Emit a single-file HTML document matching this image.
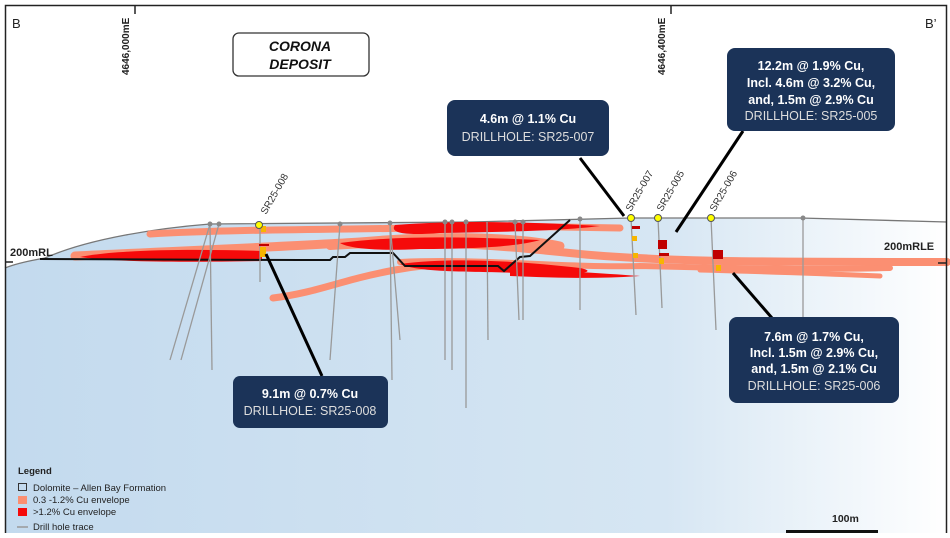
<!DOCTYPE html>
<html><head><style>
body{margin:0;width:950px;height:533px;overflow:hidden;background:#fff;font-family:"Liberation Sans",sans-serif}
</style></head><body>
<svg width="950" height="533" viewBox="0 0 950 533" xmlns="http://www.w3.org/2000/svg" font-family="Liberation Sans, sans-serif">
<defs>
<linearGradient id="bg" x1="0" y1="0" x2="1" y2="0">
<stop offset="0" stop-color="#c3daee"/><stop offset="0.7" stop-color="#d6e6f3"/><stop offset="1" stop-color="#ffffff"/>
</linearGradient>
</defs>
<rect width="950" height="533" fill="#fff"/>
<path d="M5,268 C20,262 35,260 45,258 C90,238 160,228 210,224 L470,222 L630,218 L800,218 L947,222 L947,533 L5,533 Z" fill="url(#bg)"/>
<path d="M5,268 C20,262 35,260 45,258 C90,238 160,228 210,224 L470,222 L630,218 L800,218 L947,222" fill="none" stroke="#777" stroke-width="1.3"/>
<g fill="none" stroke="#fb8f72" stroke-linecap="round">
<path d="M150,234 C250,228 400,230 500,226 L620,228" stroke-width="7"/>
<path d="M75,256 C200,250 300,246 360,242 C450,234 520,238 560,246" stroke-width="9"/>
<path d="M330,246 C420,240 480,244 560,252 C650,262 750,262 947,262" stroke-width="8"/>
<path d="M400,262 C480,258 560,268 640,266 C720,268 820,270 890,268" stroke-width="6"/>
<path d="M700,270 C780,272 830,274 880,276" stroke-width="5"/>
<path d="M273,298 C320,292 340,280 395,270 C440,262 480,262 510,266" stroke-width="7"/>
</g>
<g fill="#f50a0a">
<path d="M80,257 C120,249 200,249 262,251 L262,261 C200,262 120,263 80,257 Z"/>
<path d="M395,225 C460,220 530,222 600,226 C560,231 500,232 440,233 C400,236 390,232 395,225 Z"/>
<path d="M340,243 C400,235 470,237 540,240 C520,246 480,249 420,249 C380,251 350,249 340,243 Z"/>
<path d="M400,264 C450,257 520,261 580,268 C600,272 580,276 520,273 C470,271 420,273 400,264 Z"/>
<path d="M510,270 C560,270 610,274 640,276 C600,279 560,278 510,276 Z"/>
</g>
<polyline points="40,259 300,260 330,260 333,257 345,257 350,253 393,253 405,266 498,266 504,271 520,257 530,256 570,220" fill="none" stroke="#111" stroke-width="2"/>
<g stroke="#999" stroke-width="1.3">
<line x1="210" y1="224" x2="170" y2="360"/><line x1="210" y1="224" x2="212" y2="370"/>
<line x1="219" y1="224" x2="181" y2="360"/>
<line x1="260" y1="225" x2="260" y2="282"/>
<line x1="340" y1="224" x2="330" y2="360"/>
<line x1="390" y1="223" x2="392" y2="380"/><line x1="390" y1="223" x2="400" y2="340"/>
<line x1="445" y1="222" x2="445" y2="360"/><line x1="452" y1="222" x2="452" y2="370"/>
<line x1="466" y1="222" x2="466" y2="408"/><line x1="487" y1="222" x2="488" y2="340"/>
<line x1="515" y1="222" x2="519" y2="320"/><line x1="523" y1="222" x2="523" y2="320"/>
<line x1="580" y1="219" x2="580" y2="310"/>
<line x1="631" y1="218" x2="636" y2="315"/><line x1="658" y1="218" x2="662" y2="308"/>
<line x1="711" y1="218" x2="716" y2="330"/><line x1="803" y1="218" x2="803" y2="320"/>
</g>
<g fill="#888">
<circle cx="210" cy="224" r="2.5"/><circle cx="219" cy="224" r="2.5"/><circle cx="340" cy="224" r="2.5"/><circle cx="390" cy="223" r="2.5"/><circle cx="445" cy="222" r="2.5"/><circle cx="452" cy="222" r="2.5"/><circle cx="466" cy="222" r="2.5"/><circle cx="515" cy="222" r="2.5"/><circle cx="523" cy="222" r="2.5"/><circle cx="580" cy="219" r="2.5"/><circle cx="803" cy="218" r="2.5"/>
</g>
<g fill="#f7b500"><rect x="261" y="226" width="5" height="6"/><rect x="260" y="247" width="6" height="10"/><rect x="632" y="236" width="5" height="5"/><rect x="633" y="253" width="5" height="5"/><rect x="659" y="258" width="5" height="6"/><rect x="716" y="265" width="5" height="6"/></g>
<g fill="#c00000"><rect x="259" y="244" width="10" height="2"/><rect x="632" y="226" width="8" height="3"/><rect x="658" y="240" width="9" height="9"/><rect x="659" y="253" width="10" height="3"/><rect x="713" y="250" width="10" height="9"/></g>
<g fill="#ffff00" stroke="#555" stroke-width="1"><circle cx="259" cy="225" r="3.5"/><circle cx="631" cy="218" r="3.5"/><circle cx="658" cy="218" r="3.5"/><circle cx="711" cy="218" r="3.5"/></g>
<g font-size="10" fill="#333">
<text transform="translate(266,215) rotate(-60)">SR25-008</text>
<text transform="translate(631,212) rotate(-60)">SR25-007</text>
<text transform="translate(662,212) rotate(-60)">SR25-005</text>
<text transform="translate(715,212) rotate(-60)">SR25-006</text>
</g>
<g stroke="#000" stroke-width="3">
<line x1="266" y1="254" x2="322" y2="376"/>
<line x1="580" y1="158" x2="624" y2="216"/>
<line x1="743" y1="131" x2="676" y2="232"/>
<line x1="733" y1="273" x2="772" y2="318"/>
</g>
<rect x="5.5" y="5.5" width="941" height="540" fill="none" stroke="#222" stroke-width="1.5"/>
<line x1="135" y1="5" x2="135" y2="14" stroke="#222" stroke-width="1.5"/>
<line x1="671" y1="5" x2="671" y2="14" stroke="#222" stroke-width="1.5"/>
<line x1="5" y1="262" x2="13" y2="262" stroke="#222" stroke-width="1.5"/>
<line x1="938" y1="263" x2="947" y2="263" stroke="#222" stroke-width="1.5"/>
<text x="12" y="28" font-size="13" fill="#222">B</text>
<text x="925" y="28" font-size="13" fill="#222">B’</text>
<text transform="translate(129,75) rotate(-90)" font-size="10" font-weight="bold" fill="#222">4646,000mE</text>
<text transform="translate(665,75) rotate(-90)" font-size="10" font-weight="bold" fill="#222">4646,400mE</text>
<text x="10" y="256" font-size="11" font-weight="bold" fill="#222">200mRL</text>
<text x="884" y="250" font-size="11" font-weight="bold" fill="#222">200mRLE</text>
<rect x="233" y="33" width="136" height="43" rx="6" fill="#fff" stroke="#333" stroke-width="1.3"/>
<text x="300" y="51" font-size="14" font-weight="bold" font-style="italic" text-anchor="middle" fill="#111">CORONA</text>
<text x="300" y="69" font-size="14" font-weight="bold" font-style="italic" text-anchor="middle" fill="#111">DEPOSIT</text>
<g font-size="12.5" text-anchor="middle">
<rect x="447" y="100" width="162" height="56" rx="8" fill="#1b3358"/>
<text x="528" y="123" fill="#fff" font-weight="bold">4.6m @ 1.1% Cu</text>
<text x="528" y="141" fill="#ddd">DRILLHOLE: SR25-007</text>
<rect x="727" y="48" width="168" height="83" rx="8" fill="#1b3358"/>
<text x="811" y="70" fill="#fff" font-weight="bold">12.2m @ 1.9% Cu,</text>
<text x="811" y="87" fill="#fff" font-weight="bold">Incl. 4.6m @ 3.2% Cu,</text>
<text x="811" y="104" fill="#fff" font-weight="bold">and, 1.5m @ 2.9% Cu</text>
<text x="811" y="120" fill="#ddd">DRILLHOLE: SR25-005</text>
<rect x="233" y="376" width="155" height="52" rx="7" fill="#1b3358"/>
<text x="310" y="398" fill="#fff" font-weight="bold">9.1m @ 0.7% Cu</text>
<text x="310" y="415" fill="#ddd">DRILLHOLE: SR25-008</text>
<rect x="729" y="317" width="170" height="86" rx="8" fill="#1b3358"/>
<text x="814" y="341" fill="#fff" font-weight="bold">7.6m @ 1.7% Cu,</text>
<text x="814" y="357" fill="#fff" font-weight="bold">Incl. 1.5m @ 2.9% Cu,</text>
<text x="814" y="373" fill="#fff" font-weight="bold">and, 1.5m @ 2.1% Cu</text>
<text x="814" y="390" fill="#ddd">DRILLHOLE: SR25-006</text>
</g>
<g font-size="9.5" fill="#222">
<text x="18" y="474" font-weight="bold">Legend</text>
<rect x="18.5" y="483.5" width="8" height="7" fill="none" stroke="#333"/>
<text x="33" y="491">Dolomite – Allen Bay Formation</text>
<rect x="18" y="496" width="9" height="8" fill="#fb8f72"/>
<text x="33" y="503">0.3 -1.2% Cu envelope</text>
<rect x="18" y="508" width="9" height="8" fill="#f50a0a"/>
<text x="33" y="515">&gt;1.2% Cu envelope</text>
<line x1="17" y1="527" x2="28" y2="527" stroke="#999" stroke-width="1.5"/>
<text x="33" y="530">Drill hole trace</text>
<text x="832" y="522" font-weight="bold" font-size="10.5">100m</text>
<rect x="786" y="530" width="92" height="4" fill="#111"/>
</g>
</svg>
</body></html>
